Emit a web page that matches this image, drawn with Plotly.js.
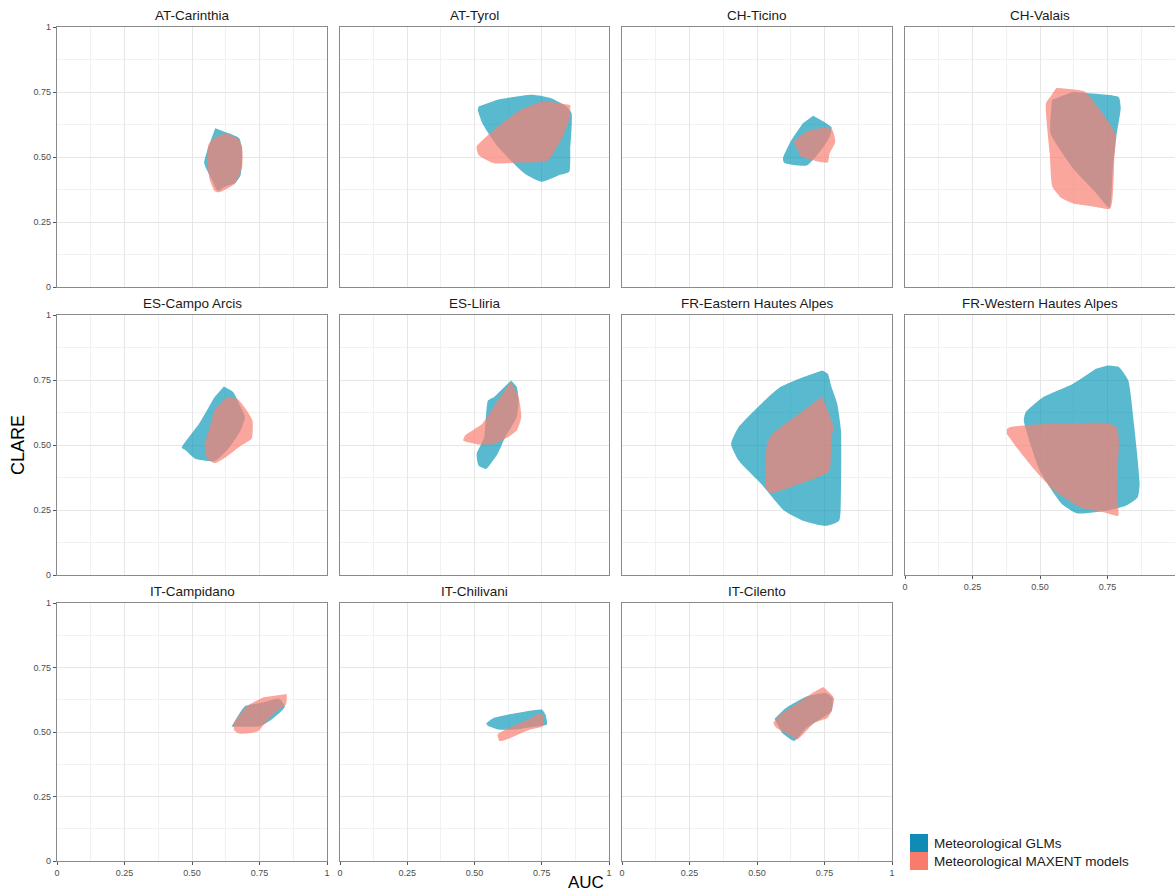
<!DOCTYPE html>
<html><head><meta charset="utf-8">
<script src="https://cdn.plot.ly/plotly-3.0.1.min.js"></script>
<style>body{margin:0;background:#fff}#chart{width:1175px;height:894px}</style>
</head><body><div id="chart"></div>
<script>
// ---- data (AUC on x, CLARE on y), hull vertices ----
const panelNames = ["AT-Carinthia","AT-Tyrol","CH-Ticino","CH-Valais","ES-Campo Arcis","ES-Lliria","FR-Eastern Hautes Alpes","FR-Western Hautes Alpes","IT-Campidano","IT-Chilivani","IT-Cilento"];
const seriesNames = ["Meteorological GLMs","Meteorological MAXENT models"];
const tickVals = [0,0.25,0.5,0.75,1];
const tickText = ["0","0.25","0.50","0.75","1"];

const carinthiaGlmAuc   = [0.586,0.64,0.675,0.685,0.686,0.68,0.66,0.62,0.595,0.575,0.555,0.545,0.555,0.57];
const carinthiaGlmClare = [0.611,0.59,0.572,0.535,0.5,0.43,0.4,0.385,0.37,0.41,0.45,0.478,0.52,0.565];
const carinthiaMaxAuc   = [0.625,0.67,0.685,0.686,0.66,0.6,0.585,0.566,0.555,0.562,0.59];
const carinthiaMaxClare = [0.591,0.57,0.54,0.463,0.398,0.364,0.368,0.411,0.501,0.55,0.578];

const tyrolGlmAuc   = [0.515,0.586,0.714,0.785,0.842,0.861,0.856,0.852,0.814,0.75,0.686,0.586,0.529,0.512];
const tyrolGlmClare = [0.694,0.72,0.739,0.726,0.694,0.668,0.527,0.443,0.43,0.405,0.437,0.54,0.63,0.68];
const tyrolMaxAuc   = [0.856,0.757,0.671,0.572,0.508,0.515,0.572,0.657,0.771,0.828,0.856];
const tyrolMaxClare = [0.70,0.713,0.681,0.604,0.54,0.508,0.476,0.479,0.486,0.578,0.656];

const ticinoGlmAuc   = [0.708,0.776,0.77,0.74,0.684,0.6,0.596,0.628,0.670];
const ticinoGlmClare = [0.659,0.614,0.58,0.53,0.467,0.478,0.495,0.566,0.630];
const ticinoMaxAuc   = [0.635,0.684,0.754,0.779,0.79,0.769,0.762,0.729,0.663];
const ticinoMaxClare = [0.559,0.598,0.613,0.604,0.559,0.514,0.479,0.482,0.501];

const valaisGlmAuc   = [0.545,0.539,0.62,0.7,0.757,0.77,0.783,0.799,0.792,0.75,0.62];
const valaisGlmClare = [0.72,0.591,0.46,0.37,0.305,0.46,0.58,0.688,0.73,0.739,0.75];
const valaisMaxAuc   = [0.56,0.616,0.665,0.778,0.775,0.761,0.707,0.623,0.581,0.546,0.536,0.522,0.539];
const valaisMaxClare = [0.765,0.761,0.752,0.591,0.488,0.302,0.308,0.321,0.341,0.386,0.514,0.707,0.733];

const campoGlmAuc   = [0.618,0.653,0.68,0.696,0.68,0.63,0.583,0.512,0.477,0.462,0.526,0.583];
const campoGlmClare = [0.725,0.703,0.646,0.607,0.556,0.48,0.438,0.447,0.479,0.489,0.582,0.684];
const campoMaxAuc   = [0.625,0.668,0.703,0.724,0.721,0.682,0.625,0.583,0.554,0.547,0.562,0.583];
const campoMaxClare = [0.682,0.678,0.633,0.594,0.524,0.498,0.453,0.43,0.453,0.504,0.556,0.633];

const lliriaGlmAuc   = [0.636,0.657,0.664,0.657,0.614,0.586,0.543,0.515,0.508,0.536,0.55,0.572];
const lliriaGlmClare = [0.748,0.723,0.671,0.607,0.53,0.466,0.408,0.421,0.466,0.53,0.671,0.684];
const lliriaMaxAuc   = [0.636,0.664,0.674,0.657,0.614,0.572,0.515,0.458,0.465,0.529,0.586];
const lliriaMaxClare = [0.742,0.684,0.607,0.556,0.524,0.504,0.502,0.517,0.537,0.582,0.671];

const easternGlmAuc   = [0.741,0.762,0.776,0.797,0.811,0.811,0.804,0.755,0.67,0.6,0.516,0.432,0.404,0.432,0.516,0.586,0.67];
const easternGlmClare = [0.787,0.774,0.723,0.659,0.556,0.325,0.209,0.189,0.209,0.248,0.35,0.44,0.504,0.569,0.659,0.723,0.761];
const easternMaxAuc   = [0.741,0.783,0.776,0.769,0.741,0.656,0.551,0.534,0.537,0.558,0.656];
const easternMaxClare = [0.687,0.569,0.53,0.402,0.383,0.35,0.315,0.331,0.504,0.543,0.62];

const westernGlmAuc   = [0.75,0.792,0.827,0.848,0.869,0.862,0.82,0.75,0.637,0.581,0.5,0.44,0.447,0.511,0.623,0.707];
const westernGlmClare = [0.806,0.80,0.748,0.582,0.35,0.299,0.267,0.248,0.237,0.273,0.4,0.594,0.626,0.684,0.736,0.793];
const westernMaxAuc   = [0.377,0.391,0.482,0.623,0.75,0.785,0.792,0.785,0.789,0.736,0.65,0.553,0.482,0.412,0.377];
const westernMaxClare = [0.562,0.569,0.579,0.584,0.584,0.569,0.517,0.325,0.228,0.241,0.26,0.325,0.402,0.492,0.543];

const campidanoGlmAuc   = [0.646,0.696,0.752,0.823,0.844,0.837,0.795,0.752,0.71];
const campidanoGlmClare = [0.52,0.6,0.612,0.629,0.6,0.587,0.548,0.522,0.52];
const campidanoMaxAuc   = [0.851,0.848,0.829,0.781,0.745,0.675,0.656,0.656,0.703,0.765];
const campidanoMaxClare = [0.647,0.606,0.593,0.548,0.503,0.494,0.507,0.535,0.6,0.635];

const chilivaniGlmAuc   = [0.543,0.572,0.657,0.75,0.764,0.769,0.72,0.657,0.586,0.55];
const chilivaniGlmClare = [0.533,0.555,0.574,0.587,0.567,0.529,0.52,0.51,0.51,0.523];
const chilivaniMaxAuc   = [0.742,0.757,0.754,0.7,0.614,0.593,0.586,0.629,0.7];
const chilivaniMaxClare = [0.574,0.561,0.522,0.507,0.469,0.465,0.49,0.516,0.548];

const cilentoGlmAuc   = [0.565,0.607,0.684,0.755,0.78,0.776,0.741,0.684,0.638,0.593,0.579];
const cilentoGlmClare = [0.551,0.593,0.638,0.651,0.632,0.58,0.554,0.516,0.465,0.497,0.523];
const cilentoMaxAuc   = [0.745,0.785,0.776,0.762,0.712,0.649,0.628,0.572,0.561,0.586,0.642,0.705];
const cilentoMaxClare = [0.674,0.632,0.58,0.555,0.535,0.471,0.484,0.516,0.535,0.567,0.606,0.651];

const glmAuc   = [carinthiaGlmAuc,tyrolGlmAuc,ticinoGlmAuc,valaisGlmAuc,campoGlmAuc,lliriaGlmAuc,easternGlmAuc,westernGlmAuc,campidanoGlmAuc,chilivaniGlmAuc,cilentoGlmAuc];
const glmClare = [carinthiaGlmClare,tyrolGlmClare,ticinoGlmClare,valaisGlmClare,campoGlmClare,lliriaGlmClare,easternGlmClare,westernGlmClare,campidanoGlmClare,chilivaniGlmClare,cilentoGlmClare];
const maxAuc   = [carinthiaMaxAuc,tyrolMaxAuc,ticinoMaxAuc,valaisMaxAuc,campoMaxAuc,lliriaMaxAuc,easternMaxAuc,westernMaxAuc,campidanoMaxAuc,chilivaniMaxAuc,cilentoMaxAuc];
const maxClare = [carinthiaMaxClare,tyrolMaxClare,ticinoMaxClare,valaisMaxClare,campoMaxClare,lliriaMaxClare,easternMaxClare,westernMaxClare,campidanoMaxClare,chilivaniMaxClare,cilentoMaxClare];

// ---- layout geometry ----
const W = 1175, H = 894;
const colPx = [[57,327],[340,609],[622,892],[905,1175]];
const rowPx = [[27,287],[315,575],[603,861]];
const glmFill = "rgba(0,147,181,0.65)";
const maxFill = "rgba(250,128,114,0.7)";
const glmKey = "#0e8cb6";
const maxKey = "#f87b6b";
const font = "Liberation Sans, Arial, sans-serif";

const traces = [];
const layout = {
  width: W, height: H, margin: {l:0,r:0,t:0,b:0},
  paper_bgcolor: "#fff", plot_bgcolor: "#fff",
  font: {family: font},
  showlegend: false,
  annotations: [], shapes: []
};

panelNames.forEach((name, i) => {
  const col = i % 4, row = Math.floor(i / 4);
  const k = i === 0 ? "" : String(i + 1);
  const xa = "xaxis" + k, ya = "yaxis" + k;
  const showX = row === 2 || i === 7;
  const showY = col === 0;
  layout[xa] = {
    domain: [colPx[col][0]/W, colPx[col][1]/W], range: [0,1], anchor: "y"+k,
    tickvals: tickVals, ticktext: tickText, showticklabels: showX,
    ticks: showX ? "outside" : "", ticklen: 3, tickcolor: "#555", tickwidth: 1,
    tickfont: {size: 9, color: "#4d4d4d", family: font},
    showgrid: true, gridcolor: "#e6e6e6", gridwidth: 1,
    minor: {dtick: 0.125, tick0: 0, showgrid: true, gridcolor: "#f1f1f1", gridwidth: 1, ticks: ""},
    zeroline: false, showline: true, mirror: true, linecolor: "#8a8a8a", linewidth: 1.2,
    fixedrange: true
  };
  layout[ya] = {
    domain: [1-rowPx[row][1]/H, 1-rowPx[row][0]/H], range: [0,1], anchor: "x"+k,
    tickvals: tickVals, ticktext: tickText, showticklabels: showY,
    ticks: showY ? "outside" : "", ticklen: 3, tickcolor: "#555", tickwidth: 1,
    tickfont: {size: 9, color: "#4d4d4d", family: font},
    showgrid: true, gridcolor: "#e6e6e6", gridwidth: 1,
    minor: {dtick: 0.125, tick0: 0, showgrid: true, gridcolor: "#f1f1f1", gridwidth: 1, ticks: ""},
    zeroline: false, showline: true, mirror: true, linecolor: "#8a8a8a", linewidth: 1.2,
    fixedrange: true
  };
  traces.push({
    type: "scatter", mode: "lines", x: glmAuc[i], y: glmClare[i], xaxis: "x"+k, yaxis: "y"+k,
    fill: "toself", fillcolor: glmFill, line: {width: 0, color: glmFill, shape: "spline", smoothing: 0.5},
    name: seriesNames[0], hoverinfo: "skip"
  });
  traces.push({
    type: "scatter", mode: "lines", x: maxAuc[i], y: maxClare[i], xaxis: "x"+k, yaxis: "y"+k,
    fill: "toself", fillcolor: maxFill, line: {width: 0, color: maxFill, shape: "spline", smoothing: 0.5},
    name: seriesNames[1], hoverinfo: "skip"
  });
  layout.annotations.push({
    text: name, xref: "paper", yref: "paper",
    x: (colPx[col][0]+colPx[col][1])/2/W, y: 1-rowPx[row][0]/H,
    xanchor: "center", yanchor: "bottom", yshift: 2, showarrow: false,
    font: {size: 13.5, color: "#1a1a1a", family: font}
  });
});

// legend (keys + labels), placed in the empty bottom-right cell
const keyColors = [glmKey, maxKey];
seriesNames.forEach((s, j) => {
  const top = 834 + j * 18;
  layout.shapes.push({
    type: "rect", xref: "paper", yref: "paper",
    x0: 910/W, x1: 928/W, y0: 1-(top+18)/H, y1: 1-top/H,
    fillcolor: keyColors[j], line: {width: 0}
  });
  layout.annotations.push({
    text: s, xref: "paper", yref: "paper", x: 932/W, y: 1-(top+9)/H,
    xanchor: "left", yanchor: "middle", showarrow: false,
    font: {size: 13.5, color: "#1a1a1a", family: font}
  });
});

layout.annotations.push({
  text: "CLARE", xref: "paper", yref: "paper", x: 18/W, y: 1-445/H,
  textangle: -90, showarrow: false, xanchor: "center", yanchor: "middle",
  font: {size: 18, color: "#000", family: font}
});
layout.annotations.push({
  text: "AUC", xref: "paper", yref: "paper", x: 586/W, y: 1-894/H,
  showarrow: false, xanchor: "center", yanchor: "bottom",
  font: {size: 17, color: "#000", family: font}
});

Plotly.newPlot("chart", traces, layout, {staticPlot: true, displayModeBar: false});
</script>
</body></html>
